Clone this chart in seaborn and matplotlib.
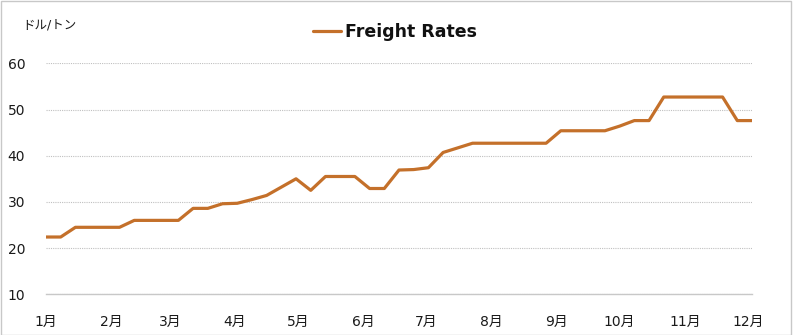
import matplotlib
matplotlib.use("Agg")
import matplotlib.pyplot as plt
from matplotlib.patches import Rectangle
import numpy as np
import pandas as pd
import seaborn as sns

# ---- data ----
start_date = "2019-01-01"
weekly_rates = [
    22.4, 22.4, 24.5, 24.5, 24.5, 24.5, 26.0, 26.0, 26.0, 26.0,
    28.6, 28.6, 29.6, 29.7, 30.5, 31.4, 33.2, 35.0, 32.5, 35.5,
    35.5, 35.5, 32.9, 32.9, 36.9, 37.0, 37.4, 40.7, 41.7, 42.7,
    42.7, 42.7, 42.7, 42.7, 42.7, 45.4, 45.4, 45.4, 45.4, 46.4,
    47.6, 47.6, 52.7, 52.7, 52.7, 52.7, 52.7, 47.6, 47.6,
]
month_labels = [f"{m}月" for m in range(1, 13)]
y_ticks = [10, 20, 30, 40, 50, 60]
series_name = "Freight Rates"
unit_label = "ドル/トン"

dates = pd.date_range(start_date, periods=len(weekly_rates), freq="7D")
df = pd.DataFrame({"date": dates, "rate": weekly_rates, "series": series_name})

# ---- style ----
sns.set_theme(style="white")
plt.rcParams["font.family"] = ["DejaVu Sans", "Noto Sans CJK JP"]

W, H = 793, 335
fig = plt.figure(figsize=(W / 100, H / 100), dpi=100)
ax = fig.add_axes([46 / W, 1 - 294.3 / H, (752 - 46) / W, (294.3 - 63.3) / H])

line_color = "#C4702A"
sns.lineplot(data=df, x="date", y="rate", hue="series", palette=[line_color],
             linewidth=2.3, ax=ax, legend=True)

ax.set_xlim(dates[0], dates[-1])
ax.set_ylim(10, 60)
ax.set_yticks(y_ticks)
ax.set_yticklabels([str(v) for v in y_ticks], fontsize=10, color="#1a1a1a")

month_starts = pd.date_range(start_date, periods=12, freq="MS")
ax.set_xticks(month_starts)
ax.set_xticklabels(month_labels, fontsize=10, color="#1a1a1a")
ax.tick_params(axis="x", length=0, pad=15)
ax.tick_params(axis="y", length=0, pad=15)

ax.grid(axis="y", color="#c0c0c0", linestyle=(0, (1, 1)), linewidth=0.8)
ax.grid(axis="x", visible=False)
for s in ["left", "right", "top"]:
    ax.spines[s].set_visible(False)
ax.spines["bottom"].set_color("#c8c8c8")
ax.spines["bottom"].set_linewidth(1.0)
ax.set_xlabel("")
ax.set_ylabel("")

# legend
handles, labels = ax.get_legend_handles_labels()
ax.get_legend().remove()
fig.legend(handles, labels, loc="center", bbox_to_anchor=(395 / W, 1 - 32 / H),
           frameon=False, prop={"weight": "bold", "size": 12.5},
           handlelength=1.6, handletextpad=0.2, borderpad=0, labelcolor="#111111")

fig.text(22 / W, 1 - 25 / H, unit_label, fontsize=9, color="#1a1a1a",
         ha="left", va="center")

# outer border
fig.patches.append(Rectangle((0.5 / W, 0.5 / H), 1 - 2.5 / W, 1 - 1.5 / H,
                             transform=fig.transFigure, fill=False,
                             edgecolor="#c8c8c8", linewidth=1))

fig.savefig("out.png", dpi=100)
